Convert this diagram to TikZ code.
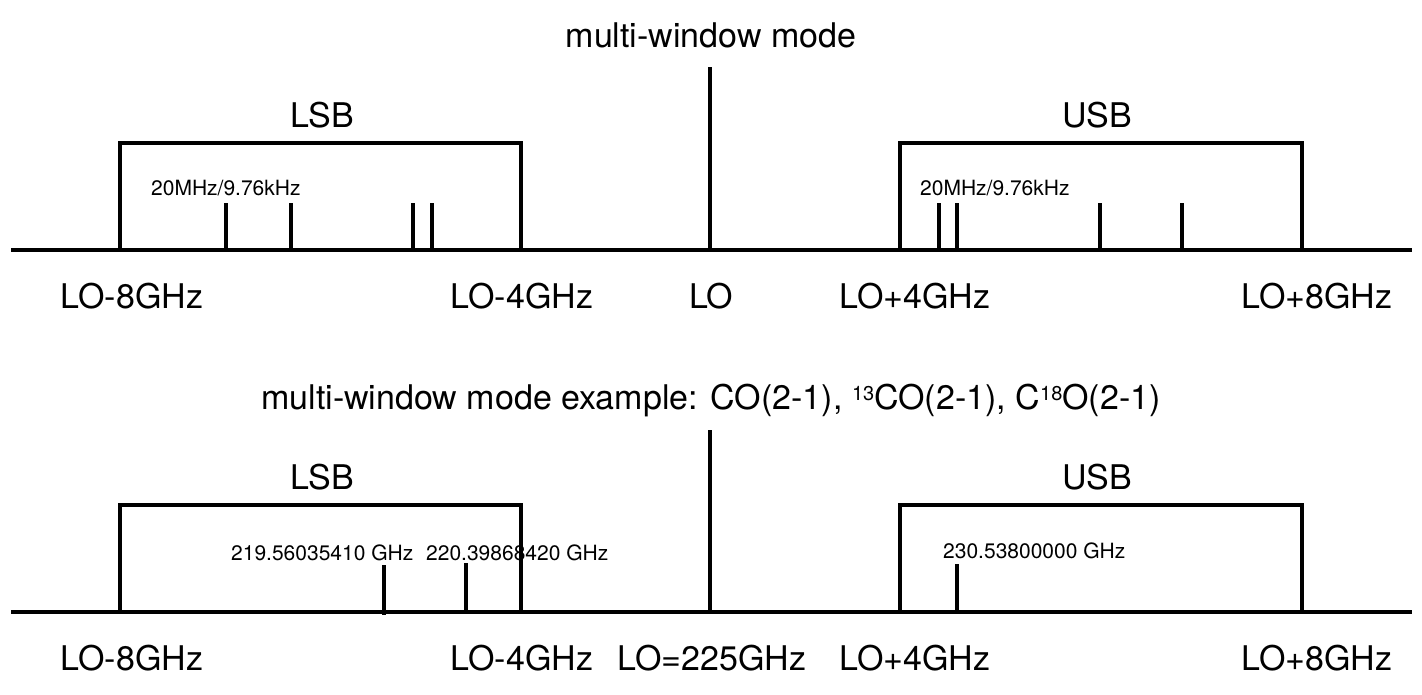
\documentclass[tikz,border=0pt]{standalone}
\usepackage{fontspec}
\setmainfont{TeX Gyre Heros}
\begin{document}
\begin{tikzpicture}[x=1pt,y=-1pt,
  ln/.style={line width=3.2pt},
  tk/.style={line width=3.2pt},
  big/.style={font=\fontsize{34}{40}\selectfont, anchor=base, inner sep=0pt},
  small/.style={font=\fontsize{21}{25}\selectfont, anchor=base west, inner sep=0pt}]
\useasboundingbox (0,0) rectangle (1422,694);

% ---------- top panel ----------
\node[big] (t1) at (711,47) {multi-window mode};
\coordinate (a1) at (11,250);
\coordinate (b1) at (1412,250);
\draw[ln] (a1) -- (b1);
\coordinate (lo1t) at (710,67);
\coordinate (lo1b) at (710,250);
\draw[ln] (lo1t) -- (lo1b);
\draw[ln] (120,250) -- (120,143) -- (521,143) -- (521,250);
\draw[ln] (900,250) -- (900,143) -- (1302,143) -- (1302,250);
\node[big] (lsb1) at (322,127) {LSB};
\node[big] (usb1) at (1097,127) {USB};
\node[small] (r1) at (151,195) {20MHz/9.76kHz};
\node[small] (r2) at (920,195) {20MHz/9.76kHz};
\foreach \x in {226,291,413,432,939,957,1100}
  \draw[tk] (\x,203) -- (\x,250);
\draw[tk] (1182,203) -- (1182,252);
\node[big] (l1) at (132,308) {LO-8GHz};
\node[big] (l2) at (522,308) {LO-4GHz};
\node[big] (l3) at (711,308) {LO};
\node[big] (l4) at (915,308) {LO+4GHz};
\node[big] (l5) at (1317,308) {LO+8GHz};

% ---------- bottom panel ----------
\node[big] (t2) at (711,409) {multi-window mode example: CO(2-1), {\fontsize{20}{20}\selectfont\raisebox{0.8ex}{13}}CO(2-1), C{\fontsize{20}{20}\selectfont\raisebox{0.8ex}{18}}O(2-1)};
\coordinate (a2) at (11,612);
\coordinate (b2) at (1412,612);
\draw[ln] (a2) -- (b2);
\coordinate (lo2t) at (710,430);
\coordinate (lo2b) at (710,612);
\draw[ln] (lo2t) -- (lo2b);
\draw[ln] (120,612) -- (120,505) -- (521,505) -- (521,612);
\draw[ln] (900,612) -- (900,505) -- (1302,505) -- (1302,612);
\node[big] (lsb2) at (322,489) {LSB};
\node[big] (usb2) at (1097,489) {USB};
\node[small] (f1) at (231,560) {219.56035410 GHz};
\node[small] (f2) at (426,560) {220.39868420 GHz};
\node[small] (f3) at (943,558) {230.53800000 GHz};
\draw[tk] (384,565) -- (384,615);
\draw[tk] (466,563) -- (466,612);
\draw[tk] (957,564) -- (957,612);
\node[big] (m1) at (132,670) {LO-8GHz};
\node[big] (m2) at (522,670) {LO-4GHz};
\node[big] (m3) at (712,670) {LO=225GHz};
\node[big] (m4) at (915,670) {LO+4GHz};
\node[big] (m5) at (1317,670) {LO+8GHz};
\end{tikzpicture}
\end{document}
